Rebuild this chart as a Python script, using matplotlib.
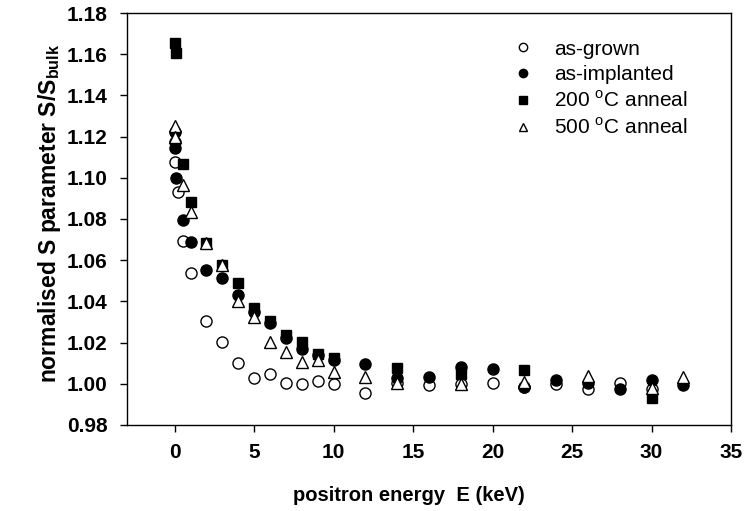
import matplotlib
matplotlib.use("Agg")
import matplotlib.pyplot as plt

plt.rcParams['font.family'] = ['Liberation Sans', 'DejaVu Sans']
plt.rcParams['mathtext.fontset'] = 'custom'
plt.rcParams['mathtext.rm'] = 'Liberation Sans'
plt.rcParams['mathtext.bf'] = 'Liberation Sans:bold'

# as-grown (open circles)
grown_x = [0, 0, 0.2, 0.5, 1, 2, 3, 4, 5, 6, 7, 8, 9, 10, 12, 14, 16, 18, 20, 22, 24, 26, 28, 30]
grown_y = [1.1175, 1.1078, 1.0933, 1.0695, 1.0536, 1.0306, 1.0204, 1.0100, 1.0030, 1.0048, 1.0005,
           0.9999, 1.0014, 0.9999, 0.9957, 1.0002, 0.9994, 1.0000, 1.0005, 0.9983, 0.9999, 0.9973,
           1.0002, 0.9975]
# as-implanted (filled circles)
impl_x = [0, 0.05, 0.1, 0.5, 1, 2, 3, 4, 5, 6, 7, 8, 9, 10, 12, 14, 16, 18, 20, 22, 24, 26, 28, 30, 32]
impl_y = [1.1224, 1.1143, 1.0998, 1.0795, 1.0690, 1.0552, 1.0512, 1.0431, 1.0350, 1.0294, 1.0221,
          1.0167, 1.0140, 1.0116, 1.0096, 1.0027, 1.0032, 1.0080, 1.0070, 0.9983, 1.0018, 1.0005,
          0.9973, 1.0018, 0.9994]
# 200 C anneal (filled squares)
a200_x = [0.05, 0.1, 0.5, 1, 2, 3, 4, 5, 6, 7, 8, 9, 10, 14, 18, 22, 30]
a200_y = [1.1653, 1.1604, 1.1066, 1.0884, 1.0685, 1.0575, 1.0491, 1.0367, 1.0305, 1.0237, 1.0204,
          1.0145, 1.0127, 1.0075, 1.0050, 1.0067, 0.9930]
# 500 C anneal (open triangles)
a500_x = [0, 0.05, 0.5, 1, 2, 3, 4, 5, 6, 7, 8, 9, 10, 12, 14, 18, 22, 26, 30, 32]
a500_y = [1.1251, 1.1197, 1.0965, 1.0835, 1.0685, 1.0577, 1.0403, 1.0326, 1.0204, 1.0156, 1.0107,
          1.0116, 1.0059, 1.0032, 1.0002, 0.9999, 1.0010, 1.0038, 0.9978, 1.0035]

labels = ['as-grown', 'as-implanted', r'200 $^\mathregular{o}$C anneal', r'500 $^\mathregular{o}$C anneal']
xticks = [0, 5, 10, 15, 20, 25, 30, 35]
yticks = [0.98, 1.00, 1.02, 1.04, 1.06, 1.08, 1.10, 1.12, 1.14, 1.16, 1.18]

W, H = 748, 511
fig = plt.figure(figsize=(W / 100, H / 100), dpi=100)
L, R, T, B = 127, 731, 13, 425
ax = fig.add_axes([L / W, 1 - B / H, (R - L) / W, (B - T) / H])

ax.plot(grown_x, grown_y, 'o', ls='none', mfc='white', mec='black', mew=1.0, ms=8, label=labels[0], zorder=3)
ax.plot(impl_x, impl_y, 'o', ls='none', mfc='black', mec='black', ms=8, label=labels[1], zorder=3)
ax.plot(a200_x, a200_y, 's', ls='none', mfc='black', mec='black', ms=7, label=labels[2], zorder=3)
ax.plot(a500_x, a500_y, '^', ls='none', mfc='white', mec='black', mew=1.0, ms=8, label=labels[3], zorder=4)

ax.set_xlim(-3, 35)
ax.set_ylim(0.98, 1.18)
ax.set_xticks(xticks)
ax.set_yticks(yticks)
ax.set_yticklabels([f'{v:.2f}' for v in yticks])
ax.tick_params(direction='out', length=5, width=1, labelsize=15, top=False, right=False)
ax.tick_params(axis='x', pad=8)
ax.tick_params(axis='y', pad=9)
for lab in ax.get_xticklabels() + ax.get_yticklabels():
    lab.set_fontweight('bold')
for s in ax.spines.values():
    s.set_linewidth(1.0)

ax.set_xlabel('positron energy  E (keV)', fontsize=14.5, fontweight='bold')
ax.xaxis.set_label_coords((409 - L) / (R - L), -(495 - B) / (B - T), transform=ax.transAxes)
ax.xaxis.label.set_va('center')
ax.set_ylabel(r'normalised S parameter S/S$_\mathregular{bulk}$', fontsize=16.5, fontweight='bold')
ax.yaxis.set_label_coords(-(L - 50) / (R - L), (B - 213) / (B - T), transform=ax.transAxes)
ax.yaxis.label.set_va('center')

leg = ax.legend(loc='upper left', bbox_to_anchor=((494 - L) / (R - L), (B - 21) / (B - T)),
                frameon=False, fontsize=15, markerscale=0.75, handletextpad=1.0,
                labelspacing=0.3, handlelength=1.0, borderpad=0.4)

fig.savefig('out.png', dpi=100)
